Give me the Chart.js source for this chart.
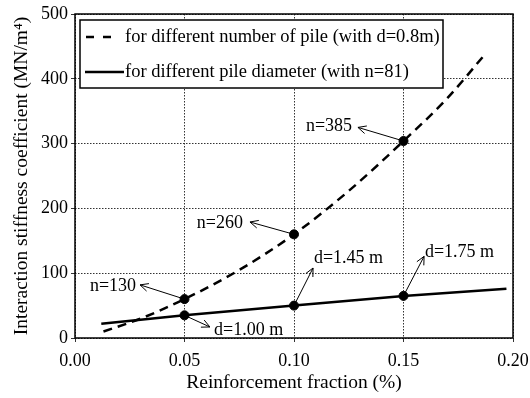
<!DOCTYPE html>
<html>
<head>
<meta charset="utf-8">
<script src="https://cdn.jsdelivr.net/npm/chart.js"></script>
</head>
<body style="margin:0;background:#fff;">
<canvas id="chart" width="530" height="398"></canvas>
<script>
// values
const pileX = [0.013, 0.03, 0.05, 0.075, 0.10, 0.125, 0.15, 0.17, 0.187];
const pileY = [10, 30, 60, 105, 160, 227, 304, 370, 437];
const diaX = [0.012, 0.05, 0.10, 0.15, 0.197];
const diaY = [22, 35, 50, 65, 76];
const markX = [0.05, 0.10, 0.15];
const markPile = [60, 160, 304];
const markDia = [35, 50, 65];
const xTicks = [0, 0.05, 0.10, 0.15, 0.20];
const yTicks = [0, 100, 200, 300, 400, 500];
const legendLabels = ['for different number of pile (with d=0.8m)', 'for different pile diameter (with n=81)'];

// labels with arrows: point, arrow tip, text anchor (data units)
const notes = [
  {text: 'n=385', px: 0.15, py: 304, tx: 0.1292, ty: 325, lx: 0.1265, ly: 326, align: 'right'},
  {text: 'n=260', px: 0.10, py: 160, tx: 0.0799, ty: 179, lx: 0.0767, ly: 177, align: 'right'},
  {text: 'n=130', px: 0.05, py: 60, tx: 0.0297, ty: 82, lx: 0.0279, ly: 80, align: 'right'},
  {text: 'd=1.00 m', px: 0.05, py: 35, tx: 0.0616, ty: 17, lx: 0.0635, ly: 12, align: 'left'},
  {text: 'd=1.45 m', px: 0.10, py: 50, tx: 0.1087, ty: 108, lx: 0.1091, ly: 123, align: 'left'},
  {text: 'd=1.75 m', px: 0.15, py: 65, tx: 0.1594, ty: 126, lx: 0.1598, ly: 133, align: 'left'}
];

const FONT = '"Liberation Serif", "Times New Roman", serif';
const pts = (xs, ys) => xs.map((x, i) => ({x: x, y: ys[i]}));

const extras = {
  id: 'extras',
  afterDatasetsDraw(chart) {
    const ctx = chart.ctx, a = chart.chartArea;
    const xs = chart.scales.x, ys = chart.scales.y;
    ctx.save();
    // frame
    ctx.strokeStyle = '#000';
    ctx.lineWidth = 1.5;
    ctx.strokeRect(a.left, a.top, a.right - a.left, a.bottom - a.top);

    // annotations
    ctx.lineWidth = 1;
    ctx.font = '18px ' + FONT;
    ctx.fillStyle = '#000';
    ctx.textBaseline = 'middle';
    notes.forEach(n => {
      const x0 = xs.getPixelForValue(n.px), y0 = ys.getPixelForValue(n.py);
      const x1 = xs.getPixelForValue(n.tx), y1 = ys.getPixelForValue(n.ty);
      const ang = Math.atan2(y1 - y0, x1 - x0);
      ctx.beginPath();
      ctx.moveTo(x0, y0);
      ctx.lineTo(x1, y1);
      ctx.moveTo(x1 - 9 * Math.cos(ang - 0.45), y1 - 9 * Math.sin(ang - 0.45));
      ctx.lineTo(x1, y1);
      ctx.lineTo(x1 - 9 * Math.cos(ang + 0.45), y1 - 9 * Math.sin(ang + 0.45));
      ctx.stroke();
      ctx.textAlign = n.align;
      ctx.fillText(n.text, xs.getPixelForValue(n.lx), ys.getPixelForValue(n.ly));
    });

    // legend box
    const bx = a.left + 5, by = a.top + 6, bw = 363, bh = 68;
    ctx.fillStyle = '#fff';
    ctx.fillRect(bx, by, bw, bh);
    ctx.lineWidth = 1.5;
    ctx.strokeStyle = '#000';
    ctx.strokeRect(bx, by, bw, bh);
    ctx.lineWidth = 2.5;
    ctx.beginPath();
    ctx.setLineDash([8, 9]);
    ctx.moveTo(bx + 6, by + 17);
    ctx.lineTo(bx + 37, by + 17);
    ctx.stroke();
    ctx.setLineDash([]);
    ctx.beginPath();
    ctx.moveTo(bx + 5, by + 52);
    ctx.lineTo(bx + 44, by + 52);
    ctx.stroke();
    ctx.fillStyle = '#000';
    ctx.font = '18.5px ' + FONT;
    ctx.textAlign = 'left';
    ctx.fillText(legendLabels[0], bx + 45, by + 17);
    ctx.fillText(legendLabels[1], bx + 45, by + 52);
    ctx.restore();
  }
};

new Chart(document.getElementById('chart'), {
  type: 'scatter',
  data: {
    datasets: [{
      data: pts(pileX, pileY),
      showLine: true,
      borderColor: '#000',
      borderWidth: 2.5,
      borderDash: [9, 6],
      cubicInterpolationMode: 'monotone',
      pointRadius: 0
    }, {
      data: pts(diaX, diaY),
      showLine: true,
      borderColor: '#000',
      borderWidth: 2.5,
      pointRadius: 0
    }, {
      data: pts(markX, markPile),
      pointRadius: 4.5,
      backgroundColor: '#000',
      borderColor: '#000'
    }, {
      data: pts(markX, markDia),
      pointRadius: 4.5,
      backgroundColor: '#000',
      borderColor: '#000'
    }]
  },
  options: {
    responsive: false,
    animation: false,
    devicePixelRatio: 1,
    layout: {padding: {left: 0, top: 14, right: 17, bottom: 0}},
    plugins: {legend: {display: false}, tooltip: {enabled: false}},
    scales: {
      x: {
        type: 'linear',
        min: 0, max: 0.2,
        afterFit: s => { s.height = 60; s.paddingLeft = 0; s.paddingRight = 0; },
        afterBuildTicks: s => { s.ticks = xTicks.map(v => ({value: v})); },
        ticks: {
          color: '#000', padding: 8,
          font: {family: FONT, size: 18},
          callback: v => v.toFixed(2)
        },
        grid: {color: '#333', lineWidth: 1, tickLength: 4},
        border: {display: false, dash: [1.5, 1.5]},
        title: {
          display: true, text: 'Reinforcement fraction (%)', color: '#000',
          font: {family: FONT, size: 19.5}, padding: {top: 0, bottom: 3}
        }
      },
      y: {
        type: 'linear',
        min: 0, max: 500,
        afterFit: s => { s.width = 75; s.paddingTop = 0; s.paddingBottom = 0; },
        afterBuildTicks: s => { s.ticks = yTicks.map(v => ({value: v})); },
        ticks: {
          color: '#000', padding: 3,
          font: {family: FONT, size: 18}
        },
        grid: {color: '#333', lineWidth: 1, tickLength: 4},
        border: {display: false, dash: [1.5, 1.5]},
        title: {
          display: true, text: 'Interaction stiffness coefficient (MN/m\u2074)', color: '#000',
          font: {family: FONT, size: 19.5}, padding: {top: 10, bottom: 0}
        }
      }
    }
  },
  plugins: [extras]
});
</script>
</body>
</html>
